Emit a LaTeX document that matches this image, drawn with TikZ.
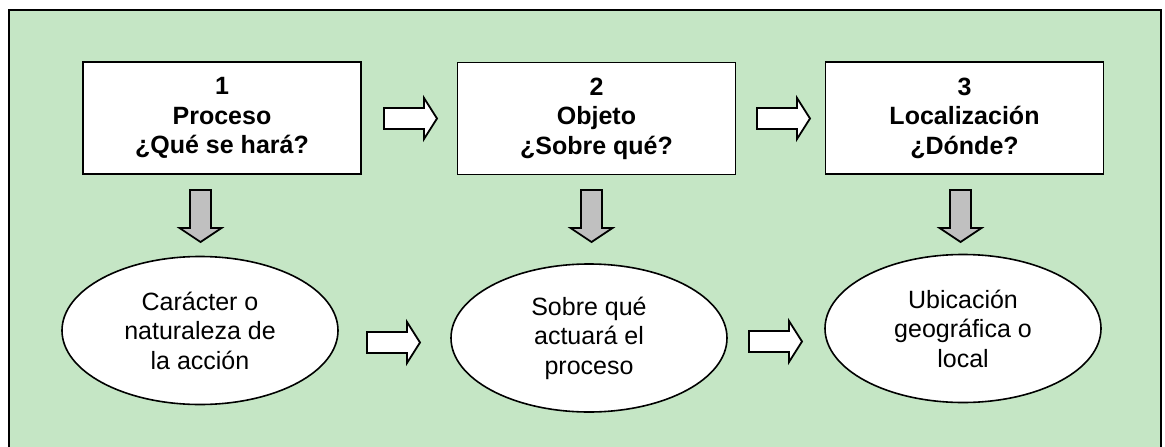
\documentclass[tikz,border=0pt]{standalone}
\usepackage{fontspec}
\setmainfont{Liberation Sans}
\usetikzlibrary{shapes.geometric}
\definecolor{bggreen}{RGB}{197,230,197}
\definecolor{arrowgray}{RGB}{192,192,192}
\begin{document}
\begin{tikzpicture}[x=1pt,y=-1pt,
  txt/.style={font=\fontsize{25}{29.5}\selectfont, align=center, text=black},
  qbox/.style={txt, font=\fontsize{25}{29.5}\selectfont\bfseries, draw=black, line width=1.8pt, fill=white, rectangle, minimum width=278pt, minimum height=112pt, inner sep=0pt},
  oval/.style={txt, draw=black, line width=1.6pt, fill=white, ellipse, minimum width=276pt, minimum height=148pt, inner sep=0pt},
  blockarrow/.style={draw=black, line width=1.8pt, line join=miter},
  rarrow/.pic={\draw[blockarrow, fill=white] (0,-10.5) -- (40,-10.5) -- (40,-20.5) -- (53,0) -- (40,20.5) -- (40,10.5) -- (0,10.5) -- cycle;},
  darrow/.pic={\draw[blockarrow, fill=arrowgray] (-10.5,0) -- (-10.5,38) -- (-21,38) -- (0,52) -- (21,38) -- (10.5,38) -- (10.5,0) -- cycle;}
]
\useasboundingbox (0,0) rectangle (1165,447);
\begin{scope}
\clip (0,0) rectangle (1165,447);
\fill[white] (0,0) rectangle (1165,447);
\draw[fill=bggreen, line width=2pt] (9,10) rectangle (1161,470);
\end{scope}

\node[qbox] (b1) at (222,118) {1\\Proceso\\¿Qué se hará?};
\node[qbox] (b2) at (596.5,118.5) {2\\Objeto\\¿Sobre qué?};
\node[qbox] (b3) at (964.5,118) {3\\Localización\\¿Dónde?};

\node[oval] (e1) at (200,330.5) {Carácter o\\naturaleza de\\la acción};
\node[oval] (e2) at (589,338) {Sobre qué\\actuará el\\proceso};
\node[oval] (e3) at (963,328.5) {Ubicación\\geográfica o\\local};

\pic at (384,118.5) {rarrow};
\pic at (757,118.5) {rarrow};
\pic at (367,342.5) {rarrow};
\pic at (749,341.5) {rarrow};

\pic at (200.5,190) {darrow};
\pic at (591.5,190) {darrow};
\pic at (960.5,190) {darrow};
\end{tikzpicture}
\end{document}
